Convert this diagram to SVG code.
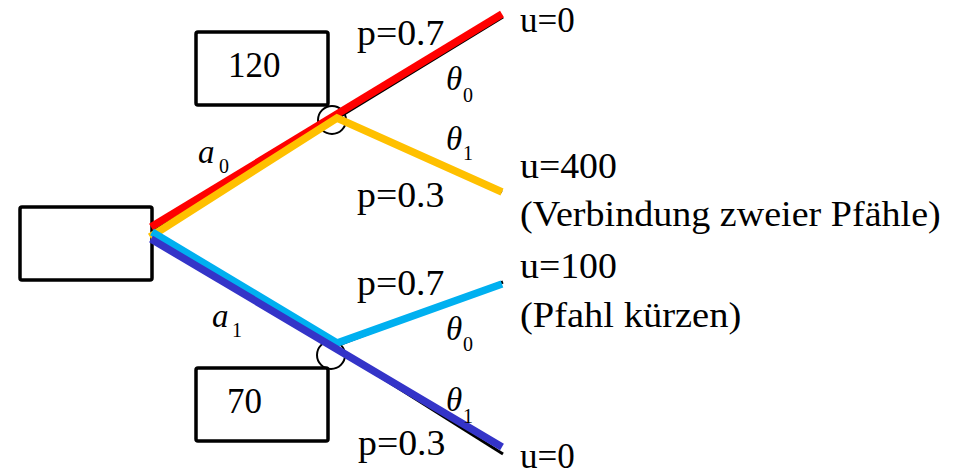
<svg xmlns="http://www.w3.org/2000/svg" width="965" height="473" viewBox="0 0 965 473">
<style>
.box{fill:#fff;stroke:#000;stroke-width:3.5}
.t{font-size:35px;fill:#000}
.it{font-size:33px;font-style:italic;fill:#000}
.sub{font-size:20px;fill:#000}
.tree{fill:none;stroke:#000;stroke-width:3}
.ch{fill:none;stroke:#000;stroke-width:2}
.p{fill:none;stroke-width:7.5;stroke-linecap:butt;stroke-linejoin:miter}
</style>
<rect width="965" height="473" fill="#fff"/>
<g id="decision">
<rect class="box" x="20" y="207" width="132" height="73" rx="2"/>
</g>
<g id="value-120">
<rect class="box" x="196" y="32" width="132" height="73" rx="2"/>
<text class="t" font-family="'Liberation Serif'" transform="translate(228,77)">120</text>
</g>
<g id="value-70">
<rect class="box" x="196" y="368" width="132" height="73" rx="2"/>
<text class="t" font-family="'Liberation Serif'" transform="translate(227,413)">70</text>
</g>
<g id="connectors">
<polyline class="tree" points="152,232 336,119 503,17"/>
<polyline class="tree" points="336,119 502,192"/>
<polyline class="tree" points="152,237 333,347 503,282"/>
<polyline class="tree" points="333,347 503,454"/>
</g>
<g id="chance-upper">
<circle class="ch" cx="332" cy="120" r="14"/>
</g>
<g id="chance-lower">
<circle class="ch" cx="331" cy="355" r="14"/>
</g>
<g id="paths">
<polyline class="p" stroke="#FF0000" points="151,227 502,14"/>
<polyline class="p" stroke="#FFC000" points="150,237 337,118 502,192"/>
<polyline class="p" stroke="#00B0F0" points="152,232 337,343 502,284"/>
<polyline class="p" stroke="#3434C8" points="151,239 502,447"/>
</g>
<g id="labels-upper">
<text class="t" font-family="'Liberation Serif'" transform="translate(357,45) scale(1.08,1)">p=0.7</text>
<text class="t" font-family="'Liberation Serif'" transform="translate(357,207) scale(1.08,1)">p=0.3</text>
<text class="it" font-family="'Liberation Serif'" x="446" y="90">θ</text><text class="sub" font-family="'Liberation Serif'" x="463" y="102">0</text>
<text class="it" font-family="'Liberation Serif'" x="446" y="150">θ</text><text class="sub" font-family="'Liberation Serif'" x="463" y="160">1</text>
<text class="it" font-family="'Liberation Serif'" x="198" y="163">a</text><text class="sub" font-family="'Liberation Serif'" x="219" y="173">0</text>
</g>
<g id="labels-lower">
<text class="t" font-family="'Liberation Serif'" transform="translate(357,295) scale(1.08,1)">p=0.7</text>
<text class="t" font-family="'Liberation Serif'" transform="translate(358,455) scale(1.08,1)">p=0.3</text>
<text class="it" font-family="'Liberation Serif'" x="446" y="340">θ</text><text class="sub" font-family="'Liberation Serif'" x="463" y="351">0</text>
<text class="it" font-family="'Liberation Serif'" x="446" y="411">θ</text><text class="sub" font-family="'Liberation Serif'" x="463" y="423">1</text>
<text class="it" font-family="'Liberation Serif'" x="212" y="327">a</text><text class="sub" font-family="'Liberation Serif'" x="232" y="337">1</text>
</g>
<g id="leaf-1">
<text class="t" font-family="'Liberation Serif'" transform="translate(520,32)">u=0</text>
</g>
<g id="leaf-2">
<text class="t" font-family="'Liberation Serif'" transform="translate(520,178) scale(1.08,1)">u=400</text>
<text class="t" font-family="'Liberation Serif'" transform="translate(520,226) scale(1.088,1)">(Verbindung zweier Pfähle)</text>
</g>
<g id="leaf-3">
<text class="t" font-family="'Liberation Serif'" transform="translate(520,278) scale(1.08,1)">u=100</text>
<text class="t" font-family="'Liberation Serif'" transform="translate(520,327) scale(1.1,1)">(Pfahl kürzen)</text>
</g>
<g id="leaf-4">
<text class="t" font-family="'Liberation Serif'" transform="translate(520,468)">u=0</text>
</g>
</svg>
